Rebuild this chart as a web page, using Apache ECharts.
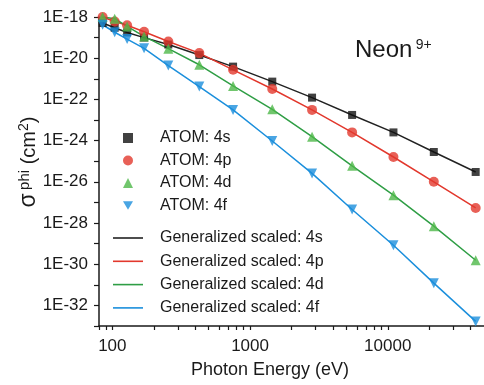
<!DOCTYPE html>
<html>
<head>
<meta charset="utf-8">
<script src="https://cdn.jsdelivr.net/npm/echarts@6/dist/echarts.min.js"></script>
<style>
  html, body { margin: 0; padding: 0; background: #fff; }
  #chart { width: 484px; height: 385px; }
</style>
</head>
<body>
<div id="chart"></div>
<script>
// photon energies (eV) shared by all series
const energies = [85, 104, 128, 170, 255, 428, 753, 1450, 2820, 5510, 11000, 21600, 43500];

// cross sections (cm^2)
const sigma4s = [5.1e-19, 3.0e-19, 1.78e-19, 1.0e-19, 4.6e-20, 1.42e-20, 3.9e-21, 7.3e-22, 1.22e-22, 1.76e-23, 2.5e-24, 2.8e-25, 3.0e-26];
const sigma4p = [1.0e-18, 6.1e-19, 4.0e-19, 1.93e-19, 6.5e-20, 1.77e-20, 2.73e-21, 3.2e-22, 3.1e-23, 2.5e-24, 1.6e-25, 1.0e-26, 5.4e-28];
const sigma4d = [1.0e-18, 8.3e-19, 3.5e-19, 1.14e-19, 2.9e-20, 4.8e-21, 4.5e-22, 3.3e-23, 1.55e-24, 6.0e-26, 2.25e-27, 7.0e-29, 1.55e-30];
const sigma4f = [4.2e-19, 1.82e-19, 8.5e-20, 3.0e-20, 4.4e-21, 4.2e-22, 3.1e-23, 9.6e-25, 2.56e-26, 4.5e-28, 8.3e-30, 1.2e-31, 1.67e-33];

const shells = ['4s', '4p', '4d', '4f'];
const atomNames = shells.map(s => 'ATOM: ' + s);
const scaledNames = shells.map(s => 'Generalized scaled: ' + s);

// axis ticks
const xLabelValues = [100, 1000, 10000];
const xTickValues = [80, 90, 100, 200, 300, 400, 500, 600, 700, 800, 900, 1000,
  2000, 3000, 4000, 5000, 6000, 7000, 8000, 9000, 10000, 20000, 30000, 40000];
const yLabelValues = [1e-18, 1e-20, 1e-22, 1e-24, 1e-26, 1e-28, 1e-30, 1e-32];
const yTickValues = [1e-18, 1e-19, 1e-20, 1e-21, 1e-22, 1e-23, 1e-24, 1e-25,
  1e-26, 1e-27, 1e-28, 1e-29, 1e-30, 1e-31, 1e-32, 1e-33];

const font = '"Liberation Sans", Arial, sans-serif';
const ink = '#1a1a1a';

const markerColors = ['#111111', '#e2382d', '#4db848', '#1b8fdc'];
const lineColors = ['#222222', '#e2382d', '#2f9e45', '#1b8fdc'];
const symbols = ['rect', 'circle', 'triangle', 'triangle'];
const legendIcons = ['rect', 'circle', 'triangle', 'path://M0,0L2,0L1,1.732Z'];
const symbolSizes = [8, 10, 10, 10];
const symbolRotates = [0, 0, 0, 180];

const sigmas = [sigma4s, sigma4p, sigma4d, sigma4f];
const toPairs = ys => energies.map((e, i) => [e, ys[i]]);

const chart = echarts.init(document.getElementById('chart'));

const series = [];
sigmas.forEach((ys, i) => {
  series.push({
    name: scaledNames[i],
    type: 'line',
    symbol: 'none',
    data: toPairs(ys),
    itemStyle: { color: lineColors[i] },
    lineStyle: { color: lineColors[i], width: 1.5 },
    z: 2,
  });
});
sigmas.forEach((ys, i) => {
  series.push({
    name: atomNames[i],
    type: 'scatter',
    symbol: symbols[i],
    symbolSize: symbolSizes[i],
    symbolRotate: symbolRotates[i],
    clip: false,
    data: toPairs(ys),
    itemStyle: { color: markerColors[i] },
    z: 3,
  });
});

const legendText = { fontSize: 16, lineHeight: 16, color: ink, fontFamily: font };

chart.setOption({
  animation: false,
  backgroundColor: '#fff',
  grid: { left: 99, top: 17, width: 387, height: 309, containLabel: false },
  legend: [
    {
      orient: 'vertical', left: 123, top: 130, padding: 0,
      itemWidth: 10, itemHeight: 10, itemGap: 6.5,
      symbolKeepAspect: true,
      selectedMode: false,
      data: atomNames.map((n, i) => ({ name: n, icon: legendIcons[i] })),
      textStyle: Object.assign({}, legendText, { padding: [0, 0, 0, 22] }),
    },
    {
      orient: 'vertical', left: 113, top: 230, padding: 0,
      itemWidth: 30, itemHeight: 1.6, itemGap: 7.3,
      selectedMode: false,
      data: scaledNames.map(n => ({ name: n, icon: 'rect' })),
      textStyle: Object.assign({}, legendText, { padding: [0, 0, 0, 12] }),
    },
  ],
  xAxis: {
    type: 'log', logBase: 10, min: 80, max: 50000,
    axisLine: { lineStyle: { color: ink, width: 1.5 } },
    axisTick: { customValues: xTickValues, length: 4, lineStyle: { color: ink, width: 1.2 } },
    axisLabel: {
      customValues: xLabelValues,
      formatter: v => String(Math.round(v)),
      fontSize: 17, color: ink, fontFamily: font, margin: 12,
    },
    splitLine: { show: false },
  },
  yAxis: {
    type: 'log', logBase: 10, min: 1e-33, max: 1e-18,
    axisLine: { lineStyle: { color: ink, width: 1.5 } },
    axisTick: { customValues: yTickValues, length: 5, lineStyle: { color: ink, width: 1.2 } },
    axisLabel: {
      customValues: yLabelValues,
      formatter: v => '1E' + Math.round(Math.log10(v)),
      fontSize: 17, color: ink, fontFamily: font, margin: 11,
    },
    splitLine: { show: false },
  },
  graphic: [
    {
      type: 'text', left: 355, top: 38,
      style: {
        text: '{a|Neon} {s|9+}',
        rich: {
          a: { fontSize: 24, fontFamily: font, fill: ink, color: ink },
          s: { fontSize: 14, fontFamily: font, fill: ink, color: ink, verticalAlign: 'top' },
        },
      },
    },
    {
      type: 'text', x: 270, y: 370,
      style: {
        text: 'Photon Energy (eV)',
        font: '18px ' + font, fill: ink,
        align: 'center', verticalAlign: 'middle',
      },
    },
    {
      type: 'text', x: 29, y: 162, rotation: Math.PI / 2,
      style: {
        text: '{g|σ} {s|phi}{b| (cm}{t|2}{b|)}',
        align: 'center', verticalAlign: 'middle',
        rich: {
          g: { fontSize: 23, fontFamily: font, fill: ink, color: ink },
          s: { fontSize: 15, fontFamily: font, fill: ink, color: ink, verticalAlign: 'top' },
          b: { fontSize: 20, fontFamily: font, fill: ink, color: ink },
          t: { fontSize: 14, fontFamily: font, fill: ink, color: ink, verticalAlign: 'top' },
        },
      },
    },
  ],
  series,
});
</script>
</body>
</html>
